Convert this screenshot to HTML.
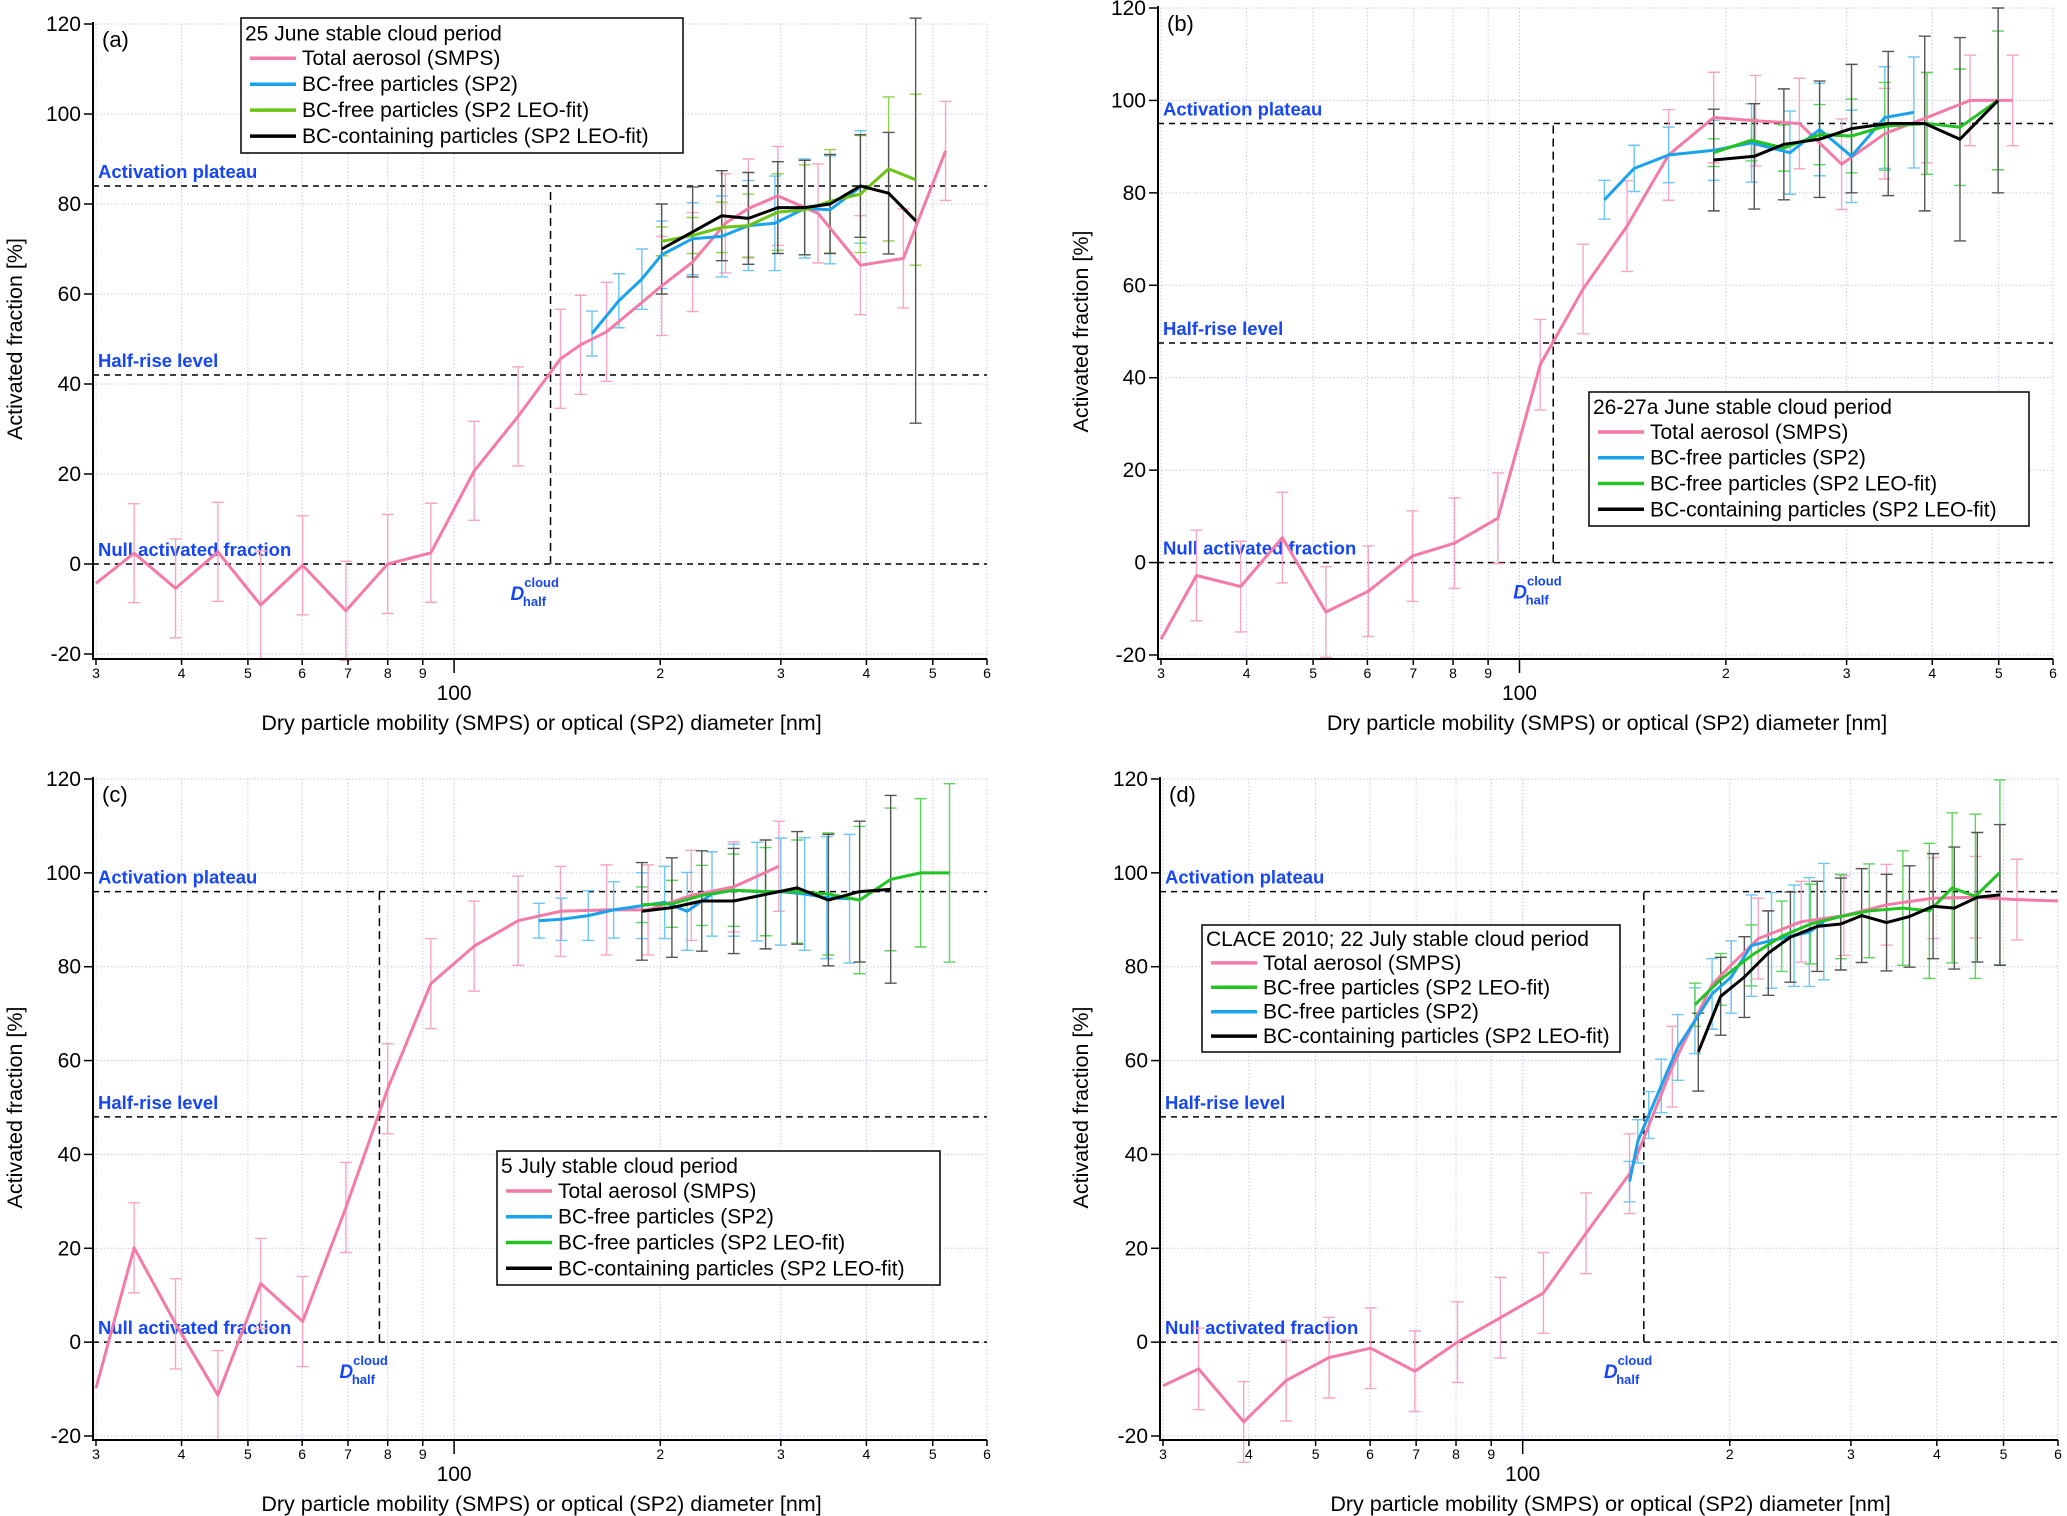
<!DOCTYPE html>
<html><head><meta charset="utf-8"><title>Activated fraction panels</title>
<style>
html,body{margin:0;padding:0;background:#fff;}
svg{display:block;font-family:"Liberation Sans",Arial,sans-serif;}
</style></head>
<body>
<svg id="chart" width="2067" height="1516" viewBox="0 0 2067 1516" xmlns="http://www.w3.org/2000/svg"></svg>
<script>
// ---------- data ----------
const yTicks = [-20, 0, 20, 40, 60, 80, 100, 120];
const xMajor = [30, 40, 50, 60, 70, 80, 90, 100, 200, 300, 400, 500, 600];
const xTickLabels = ["3","4","5","6","7","8","9","","2","3","4","5","6"];
const panelLetters = ["(a)","(b)","(c)","(d)"];
const legendTitles = ["25 June stable cloud period","26-27a June stable cloud period","5 July stable cloud period","CLACE 2010; 22 July stable cloud period"];
const plateauLevels = [84, 95, 96, 96];
const halfLevels = [42, 47.5, 48, 48];
const dHalf = [138.3, 112, 77.8, 150];

// panel (a)
const aPinkD = [30,34.1,39.2,45.2,52.2,60.1,69.5,80,92.5,107,124,143,153,167,201,223,249,269,297,340,392,453,522];
const aPinkV = [-4.3,2.4,-5.4,2.7,-9.1,-0.3,-10.4,0,2.5,20.7,32.8,45.6,48.7,51.6,61.8,67.1,75.7,79,81.8,77.9,66.4,67.9,91.8];
const aPinkE = [0,11,11,11,12,11,11,11,11,11,11,11,11,11,11,11,11,11,11,11,11,11,11];
const aBlueD = [159,174,188,201,223,246,269,294,325,354,392];
const aBlueV = [51.2,58.5,63.3,68.7,72.3,72.8,75.2,75.7,79,78.7,83.8];
const aBlueE = [5,6,6.7,7.5,8,9,10,10.5,11,12,12.5];
const aGreenD = [201,223,246,269,297,325,354,392,431,472];
const aGreenV = [71.7,73,74.8,75.2,78.2,78.7,80.6,82.2,87.8,85.4];
const aGreenE = [3.2,4,5.6,7,8.5,10,11.5,13,16,19];
const aBlackD = [201,223,246,269,297,325,354,392,431,472];
const aBlackV = [70,73.8,77.4,76.8,79.2,79.2,80,84,82.4,76.3];
const aBlackE = [10,10,10,10.2,10.2,10.5,11,11.4,13.5,45];

// panel (b)
const bPinkD = [30,33.8,39.2,45.1,52.2,60.2,69.8,80.4,93,107.2,123.8,143.5,165,192,221,256,295,341,393,454,524];
const bPinkV = [-16.6,-2.8,-5.2,5.4,-10.7,-6.2,1.4,4.2,9.6,42.8,59.2,72.8,88.2,96.3,95.6,95,86.2,92.8,96.3,100,100];
const bPinkE = [0,9.8,9.8,9.8,9.8,9.8,9.8,9.8,9.8,9.8,9.7,9.8,9.8,9.8,9.8,9.8,9.8,9.8,9.8,9.8,9.8];
const bBlueD = [133,147,165,192,218,248,274,305,341,376];
const bBlueV = [78.5,85.3,88.2,89.2,90.8,88.7,93.7,87.9,96.3,97.4];
const bBlueE = [4.2,5,6,6.5,8.5,9,10,10,11,12];
const bGreenD = [192,218,243,274,305,341,393,439,499];
const bGreenV = [88.7,91.4,89.7,92.6,92.3,94.4,95,94.2,100];
const bGreenE = [3,4.5,5,6.5,8,9.5,11,12.6,15];
const bBlackD = [192,220,243,274,305,345,390,439,499];
const bBlackV = [87.1,87.9,90.5,91.6,93.9,95,95,91.6,100];
const bBlackE = [11,11.4,12,12.6,13.9,15.6,18.9,22,20];

// panel (c)
const cPinkD = [30,34.1,39.2,45.2,52.2,60.1,69.5,80,92.5,107,124,143,167,192,222,256,298];
const cPinkV = [-9.8,20.1,3.9,-11.3,12.5,4.4,28.7,54,76.4,84.4,89.8,91.8,92.1,92.1,95.2,97,101.4];
const cPinkE = [0,9.6,9.6,9.5,9.6,9.6,9.6,9.6,9.6,9.6,9.5,9.6,9.6,9.6,9.6,9.6,9.6];
const cBlueD = [133,143.5,157,171,188,203,219,238,256,277,300,325,350,378];
const cBlueV = [89.8,90.1,90.9,92.1,93,93.7,91.8,95.5,96.3,96,96,95.5,94.7,94.5];
const cBlueE = [3.7,4.5,5.3,6,7,7.7,8.3,9,9.8,10.5,11.4,12,13,13.7];
const cGreenD = [188,208,230,256,285,317,352,391,434,480,529];
const cGreenV = [93.2,93.4,95.2,96.3,96,96,95.5,94.2,98.6,100,100];
const cGreenE = [3.8,5,6.4,7.7,9.4,11,13,15.7,15.2,15.8,19];
const cBlackD = [188,208,230,256,285,317,352,391,434];
const cBlackV = [91.8,92.6,94,94,95.4,96.8,94.2,96,96.5];
const cBlackE = [10.4,10.6,10.7,11.2,11.6,12,14,15,20];

// panel (d)
const dPinkD = [30,33.8,39.3,45.3,52.3,60.1,69.7,80.4,92.8,107.2,123.6,143,165,188.5,201,220,254,293,338,395,455,523,600];
const dPinkV = [-9.3,-5.7,-17,-8.2,-3.3,-1.3,-6.2,0,5.2,10.5,23.2,35.9,58.7,76.2,80.4,86,89.6,90.9,93.2,94.6,94.8,94.3,94];
const dPinkE = [0,8.7,8.6,8.6,8.6,8.6,8.6,8.6,8.6,8.6,8.6,8.5,8.6,0,0,8.6,8.6,8.5,8.6,8.6,8.7,8.6,0];
const dBlueD = [143,147,152.5,159,168,178,188.5,201,215,230,248,261,274];
const dBlueV = [34.2,42.8,48.4,54.6,62.8,68.5,74.2,77.8,84.5,85.6,86.6,87.4,89.6];
const dBlueE = [4.3,4.6,5,5.7,7,7,7.5,7.7,10.8,10.2,10.8,11.6,12.4];
const dGreenD = [178,194,215,238,262,290,319,357,390,421,455,494];
const dGreenV = [71.9,77.3,82.4,86.5,89.1,90.7,91.9,92.5,91.9,96.8,95,100.1];
const dGreenE = [4.6,5.5,6.5,7.5,8.5,9,10,12.2,14.4,16,17.5,19.7];
const dBlackD = [180,194,210,227.5,245,268,290,311,338,365,395,424,458,494];
const dBlackV = [61.8,73.7,77.8,82.9,86.3,88.6,89.1,90.9,89.4,90.7,92.9,92.5,94.8,95.3];
const dBlackE = [8.3,8.3,8.6,9,9.6,9.6,9.8,10,10.3,10.8,11.2,13,13.8,15];

// ---------- rendering ----------
const NS = "http://www.w3.org/2000/svg";
const svg = document.getElementById("chart");
function mk(tag, attrs, parent) {
  const e = document.createElementNS(NS, tag);
  for (const k in attrs) e.setAttribute(k, attrs[k]);
  (parent || svg).appendChild(e);
  return e;
}
const COL = {pink:"#f47aa8", blue:"#1aa3ec", greenA:"#6cc417", green:"#22c322", black:"#000"};
const ECOL = {pink:"#f6a6c4", blue:"#6ec6f2", greenA:"#8fd24a", green:"#5dd45d", black:"#555"};

const geoms = [
  {x30:96, x600:987, y120:24, ym20:654, axL:93, axB:659, titleX:15},
  {x30:1161, x600:2053, y120:8, ym20:655, axL:1158, axB:659, titleX:1081},
  {x30:96, x600:987, y120:779, ym20:1436, axL:93, axB:1440, titleX:15},
  {x30:1163, x600:2058, y120:779, ym20:1436, axL:1160, axB:1440, titleX:1081}
];
const seriesSets = [
  [["pink",aPinkD,aPinkV,aPinkE],["blue",aBlueD,aBlueV,aBlueE],["greenA",aGreenD,aGreenV,aGreenE],["black",aBlackD,aBlackV,aBlackE]],
  [["pink",bPinkD,bPinkV,bPinkE],["blue",bBlueD,bBlueV,bBlueE],["green",bGreenD,bGreenV,bGreenE],["black",bBlackD,bBlackV,bBlackE]],
  [["pink",cPinkD,cPinkV,cPinkE],["blue",cBlueD,cBlueV,cBlueE],["green",cGreenD,cGreenV,cGreenE],["black",cBlackD,cBlackV,cBlackE]],
  [["pink",dPinkD,dPinkV,dPinkE],["blue",dBlueD,dBlueV,dBlueE],["green",dGreenD,dGreenV,dGreenE],["black",dBlackD,dBlackV,dBlackE]]
];
const legendBoxes = [
  {x:241,y:18,w:442,h:135,order:[["pink","Total aerosol (SMPS)"],["blue","BC-free particles (SP2)"],["greenA","BC-free particles (SP2 LEO-fit)"],["black","BC-containing particles (SP2 LEO-fit)"]]},
  {x:1589,y:392,w:440,h:134,order:[["pink","Total aerosol (SMPS)"],["blue","BC-free particles (SP2)"],["green","BC-free particles (SP2 LEO-fit)"],["black","BC-containing particles (SP2 LEO-fit)"]]},
  {x:497,y:1151,w:443,h:134,order:[["pink","Total aerosol (SMPS)"],["blue","BC-free particles (SP2)"],["green","BC-free particles (SP2 LEO-fit)"],["black","BC-containing particles (SP2 LEO-fit)"]]},
  {x:1202,y:925,w:418,h:127,order:[["pink","Total aerosol (SMPS)"],["green","BC-free particles (SP2 LEO-fit)"],["blue","BC-free particles (SP2)"],["black","BC-containing particles (SP2 LEO-fit)"]]}
];
const seriesNames = {pink:"total-aerosol", blue:"bc-free-sp2", greenA:"bc-free-leo-fit", green:"bc-free-leo-fit", black:"bc-containing-leo-fit"};

for (let p = 0; p < 4; p++) {
  const g = geoms[p];
  const sx = d => g.x30 + (Math.log10(d) - Math.log10(30)) / (Math.log10(600) - Math.log10(30)) * (g.x600 - g.x30);
  const sy = v => g.y120 + (120 - v) / 140 * (g.ym20 - g.y120);
  const grp = mk("g", {});
  
  

  // grid
  yTicks.forEach(t => {
    const l = mk("line", {x1:g.axL, x2:g.x600, y1:sy(t), y2:sy(t), stroke:"#c8c8e6", "stroke-width":1, "stroke-dasharray":"1.5,2"}, grp);
    
    
  });
  xMajor.forEach(t => {
    const l = mk("line", {x1:sx(t), x2:sx(t), y1:g.y120, y2:g.axB, stroke:"#c8c8e6", "stroke-width":1, "stroke-dasharray":"1.5,2"}, grp);
    
    
  });

  // reference lines
  [plateauLevels[p], halfLevels[p], 0].forEach(v => {
    const l = mk("line", {x1:g.axL, x2:g.x600, y1:sy(v), y2:sy(v), stroke:"#000", "stroke-width":1.5, "stroke-dasharray":"6,5"}, grp);
    
    
  });
  const vl = mk("line", {x1:sx(dHalf[p]), x2:sx(dHalf[p]), y1:sy(0), y2:sy(plateauLevels[p]), stroke:"#000", "stroke-width":1.5, "stroke-dasharray":"8,5"}, grp);
  
  

  // level labels
  const lbls = [["Activation plateau", plateauLevels[p], "activation-plateau-label"], ["Half-rise level", halfLevels[p], "half-rise-label"], ["Null activated fraction", 0, "null-fraction-label"]];
  lbls.forEach(([txt, v, nm]) => {
    const t = mk("text", {x:g.axL + 5, y:sy(v) - 8, fill:"#1646f5", "font-size":18.5, "font-weight":"bold"}, grp);
    t.textContent = txt;
    
    
  });
  const dl = mk("text", {x:sx(dHalf[p]) - 40, y:sy(0) + 36, fill:"#1646f5", "font-size":19, "font-weight":"bold", "font-style":"italic"}, grp);
  
  
  dl.innerHTML = 'D<tspan font-size="13" font-style="normal" dy="-13">cloud</tspan><tspan font-size="13" font-style="normal" dx="-36" dy="19">half</tspan>';

  // series: error bars then lines
  seriesSets[p].forEach(([c, D, V, E]) => {
    D.forEach((d, i) => {
      if (!E[i]) return;
      const x = sx(d), y1 = sy(V[i] + E[i]), y2 = sy(V[i] - E[i]);
      const eb = mk("path", {d:`M${x},${y1}V${y2}M${x-6},${y1}H${x+6}M${x-6},${y2}H${x+6}`, stroke:ECOL[c], "stroke-width":1.4, fill:"none"}, grp);
      
      
    });
  });
  seriesSets[p].forEach(([c, D, V]) => {
    const pts = D.map((d, i) => sx(d).toFixed(1) + "," + sy(V[i]).toFixed(1)).join(" ");
    const pl = mk("polyline", {points:pts, stroke:COL[c], "stroke-width":3, fill:"none", "stroke-linejoin":"round"}, grp);
    
    
  });

  // axes
  const ax = mk("path", {d:`M${g.axL},${g.y120 - 2}V${g.axB}H${g.x600}`, stroke:"#000", "stroke-width":2, fill:"none"}, grp);
  
  
  yTicks.forEach(t => {
    const tk = mk("line", {x1:g.axL - 9, x2:g.axL, y1:sy(t), y2:sy(t), stroke:"#000", "stroke-width":1.5}, grp);
    
    
    const tl = mk("text", {x:g.axL - 12, y:sy(t) + 7, "text-anchor":"end", "font-size":21, fill:"#000"}, grp);
    tl.textContent = String(t);
    
    
  });
  xMajor.forEach((t, i) => {
    const big = t === 100;
    const tk = mk("line", {x1:sx(t), x2:sx(t), y1:g.axB, y2:g.axB + (big ? 14 : 6), stroke:"#000", "stroke-width":1.5}, grp);
    
    
    if (xTickLabels[i]) {
      const tl = mk("text", {x:sx(t), y:g.axB + 19, "text-anchor":"middle", "font-size":14, fill:"#000"}, grp);
      tl.textContent = xTickLabels[i];
      
      
    }
  });
  const hl = mk("text", {x:sx(100), y:g.axB + 41, "text-anchor":"middle", "font-size":21, fill:"#000"}, grp);
  hl.textContent = "100";
  
  
  const xt = mk("text", {x:(g.x30 + g.x600) / 2, y:g.axB + 71, "text-anchor":"middle", "font-size":21.5, fill:"#000"}, grp);
  xt.textContent = "Dry particle mobility (SMPS) or optical (SP2) diameter [nm]";
  
  
  const cy = (g.y120 + g.ym20) / 2;
  const yt = mk("text", {x:0, y:0, transform:`translate(${g.titleX + 7},${cy}) rotate(-90)`, "text-anchor":"middle", "font-size":21.5, fill:"#000"}, grp);
  yt.textContent = "Activated fraction [%]";
  
  
  const pl = mk("text", {x:g.axL + 9, y:g.y120 + 23, "font-size":22, fill:"#000"}, grp);
  pl.textContent = panelLetters[p];
  
  

  // legend
  const L = legendBoxes[p];
  const lg = mk("g", {}, grp);
  
  
  mk("rect", {x:L.x, y:L.y, width:L.w, height:L.h, fill:"#fff", stroke:"#000", "stroke-width":1.5}, lg);
  const rs = L.h / 5.2;
  const tt = mk("text", {x:L.x + 4, y:L.y + rs * 0.78 + 2, "font-size":21, fill:"#000"}, lg);
  tt.textContent = legendTitles[p];
  
  
  L.order.forEach(([c, label], i) => {
    const yy = L.y + rs * (1.55 + i);
    const en = mk("g", {}, lg);
    
    
    mk("line", {x1:L.x + 9, x2:L.x + 55, y1:yy, y2:yy, stroke:COL[c], "stroke-width":3.5}, en);
    const tx = mk("text", {x:L.x + 61, y:yy + 7, "font-size":21, fill:"#000"}, en);
    tx.textContent = label;
  });
}
</script>
</body></html>
